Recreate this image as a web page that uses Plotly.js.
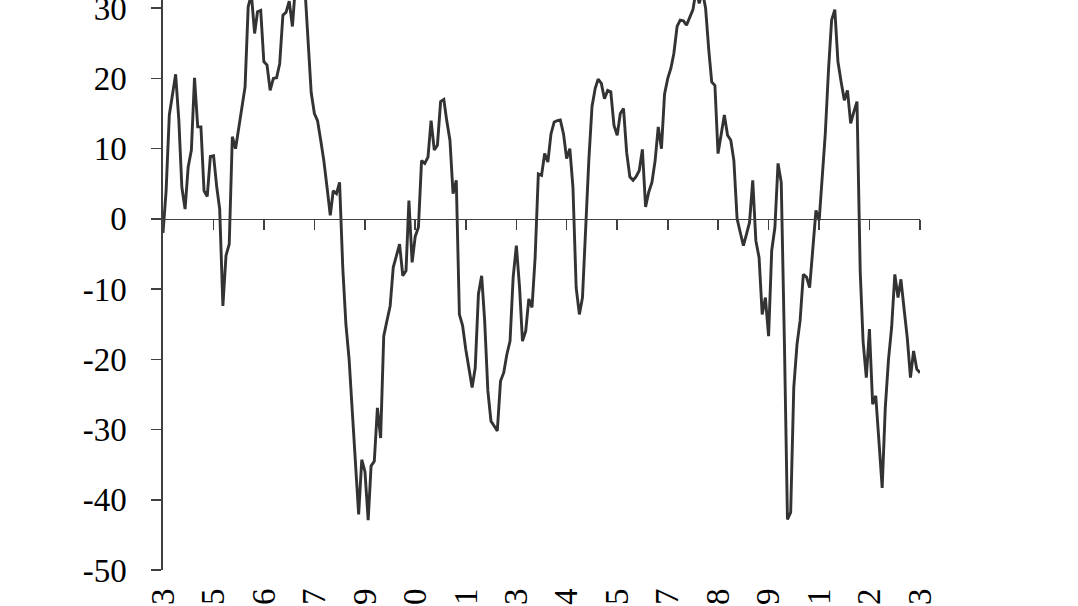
<!DOCTYPE html>
<html>
<head>
<meta charset="utf-8">
<script src="https://cdn.plot.ly/plotly-3.0.1.min.js"></script>
<style>
  html, body { margin: 0; padding: 0; width: 1078px; height: 606px; overflow: hidden; background: #ffffff; }
  #chart { position: absolute; left: 0; top: -72px; width: 1078px; height: 742px; }
</style>
</head>
<body>
<div id="chart"></div>
<script>
// Monthly series, Sep-1983 .. Sep-2003 (241 months)
const startYear = 1983;
const startMonth = 9;
const values = [
  -2, 4, 14.8, 17.8, 20.6, 14, 4.5, 1.4, 7.4, 9.8,
  20.1, 13.1, 13.1, 4.0, 3.2, 8.9, 9.0, 4.5, 1.4, -12.4,
  -5.2, -3.6, 11.7, 10.0, 13.1, 15.5, 18.8, 30.2, 32, 26.4,
  29.5, 29.7, 22.4, 21.9, 18.3, 20, 20.1, 22.1, 29, 29.4,
  31, 27.4, 33, 35, 36, 33, 26, 18, 15, 14,
  11.2, 8.3, 4.5, 0.5, 4.0, 3.6, 5.2, -7, -15, -20,
  -27.5, -34.5, -42.1, -34.3, -36, -42.9, -35.2, -34.5, -26.9, -31.2,
  -16.7, -14.5, -12.4, -6.9, -5.2, -3.6, -8.1, -7.4, 2.6, -6.2,
  -2.5, -1.2, 8.3, 7.9, 8.8, 14, 9.8, 10.5, 16.7, 17,
  14, 11.2, 3.6, 5.5, -13.6, -15.2, -18.6, -21.2, -24, -21.2,
  -10.7, -8.1, -14.5, -24.5, -28.8, -29.5, -30.2, -23.1, -21.9, -19.3,
  -17.4, -8.3, -3.8, -9.8, -17.4, -16, -11.4, -12.6, -5.5, 6.4,
  6.2, 9.3, 8.1, 12.1, 13.8, 14.0, 14.1, 12.1, 8.6, 10,
  4.5, -9.8, -13.6, -11.2, -0.2, 8.3, 16, 18.6, 19.9, 19.3,
  17.1, 18.3, 18.1, 13.3, 11.9, 15, 15.7, 9.5, 6, 5.5,
  6, 6.9, 9.9, 1.7, 3.8, 5.2, 8.3, 13.1, 10, 17.8,
  20, 21.5, 23.6, 27.4, 28.3, 28.2, 27.6, 28.6, 29.8, 32.5,
  30.7, 32.5, 30, 24, 19.5, 19, 9.3, 12.1, 14.8, 11.9,
  11.2, 8.3, 0, -1.9, -3.8, -2.1, -0.5, 5.5, -3.1, -5.5,
  -13.6, -11.2, -16.7, -4.5, -1.2, 7.9, 5.2, -18, -42.8, -41.8,
  -24, -17.9, -14.5, -7.9, -8.3, -9.8, -4, 1.2, -0.2, 6.4,
  12.1, 21.2, 28.3, 29.8, 22.4, 19.5, 16.9, 18.3, 13.6, 15.2,
  16.7, -7.5, -17.5, -22.6, -15.7, -26.4, -25.2, -31.7, -38.3, -26.9,
  -20, -15.5, -7.9, -11.2, -8.6, -12.9, -16.9, -22.6, -18.8, -21.4,
  -21.9
];
const tickLabels = ["Sep-83","Jan-85","May-86","Sep-87","Jan-89","May-90","Sep-91","Jan-93",
                    "May-94","Sep-95","Jan-97","May-98","Sep-99","Jan-01","May-02","Sep-03"];
const yTicks = [-50, -40, -30, -20, -10, 0, 10, 20, 30, 40];
const yTickText = yTicks.map(v => String(v));
const tickEveryMonths = 16;

function monthDate(i) {
  const t = (startMonth - 1) + i;
  const y = startYear + Math.floor(t / 12);
  const m = (t % 12) + 1;
  return y + "-" + String(m).padStart(2, "0") + "-01";
}
const dates = values.map((_, i) => monthDate(i));
const tickDates = tickLabels.map((_, k) => monthDate(k * tickEveryMonths));
const xRange = [dates[0], dates[dates.length - 1]];

const axisColor = "#404040";
const serif = "Liberation Serif, Times New Roman, serif";
const yMin = -50, yMax = 40;

const trace = {
  x: dates, y: values, type: "scatter", mode: "lines",
  line: { color: "#333333", width: 2.9 },
  hoverinfo: "x+y", showlegend: false
};
// empty trace that only registers the zero-crossing axis (line + tick marks)
const axisHolder = {
  x: [], y: [], xaxis: "x2", yaxis: "y", type: "scatter", mode: "lines",
  hoverinfo: "skip", showlegend: false
};

const layout = {
  width: 1078, height: 742,
  margin: { l: 163, r: 158, t: 10, b: 100 },
  paper_bgcolor: "#ffffff", plot_bgcolor: "#ffffff",
  showlegend: false,
  xaxis: {
    type: "date", range: xRange,
    showgrid: false, zeroline: false, showline: false,
    ticks: "", tickmode: "array", tickvals: tickDates, ticktext: tickLabels,
    tickangle: -90, ticklabelstandoff: 11,
    tickfont: { family: serif, size: 33, color: "#000000" }
  },
  xaxis2: {
    type: "date", overlaying: "x", range: xRange,
    anchor: "free", position: (0 - yMin) / (yMax - yMin),
    showgrid: false, zeroline: false,
    showline: true, linecolor: axisColor, linewidth: 1.6,
    ticks: "outside", ticklen: 10, tickwidth: 1.6, tickcolor: axisColor,
    tickmode: "array", tickvals: tickDates, showticklabels: false
  },
  yaxis: {
    range: [yMin, yMax], showgrid: false, zeroline: false,
    showline: true, linecolor: axisColor, linewidth: 1.6,
    ticks: "outside", ticklen: 10, tickwidth: 1.6, tickcolor: axisColor,
    tickmode: "array", tickvals: yTicks, ticktext: yTickText,
    ticklabelstandoff: 18,
    tickfont: { family: serif, size: 33, color: "#000000" }
  }
};

Plotly.newPlot("chart", [trace, axisHolder], layout, { displayModeBar: false, staticPlot: true });
</script>
</body>
</html>
